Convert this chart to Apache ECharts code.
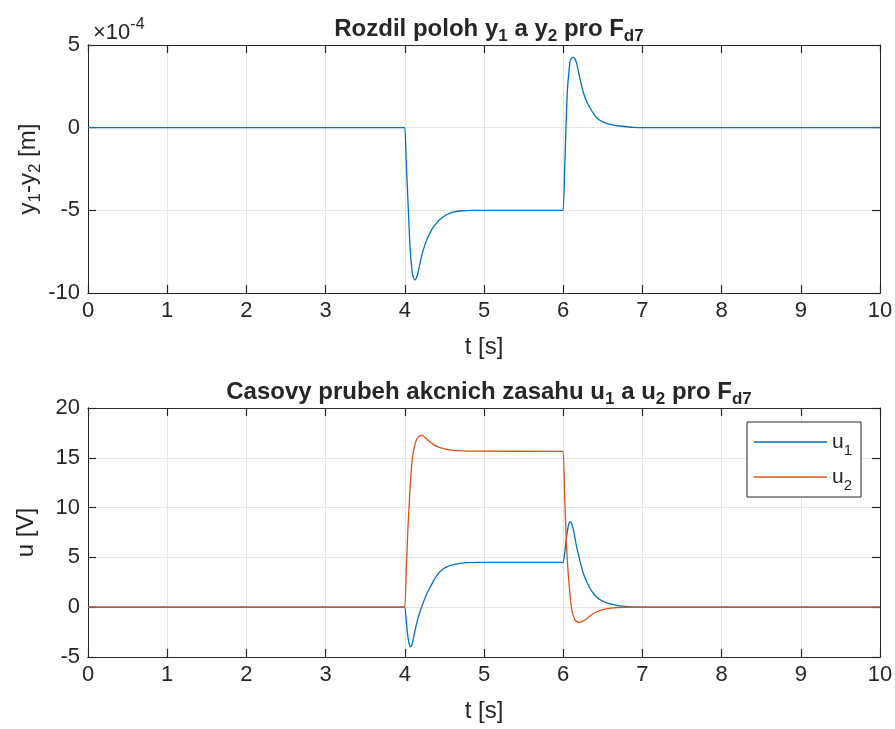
<!DOCTYPE html>
<html>
<head>
<meta charset="utf-8">
<script src="https://cdn.jsdelivr.net/npm/echarts@6.0.0/dist/echarts.min.js"></script>
<style>
	html, body { margin: 0; padding: 0; background: #fff; }
	#main { width: 895px; height: 729px; }
</style>
</head>
<body>
<div id="main"></div>
<script>
// top plot: y1 - y2, values in units of 1e-4 m
const tDiff = [0, 3.98, 4.0, 4.02, 4.045, 4.066, 4.09, 4.11, 4.13, 4.15, 4.17, 4.19, 4.21, 4.23, 4.25, 4.28, 4.32, 4.36, 4.40,
	4.46, 4.53, 4.60, 4.70, 4.85, 5.98, 6.0, 6.02, 6.035, 6.05, 6.065, 6.086, 6.105, 6.126, 6.15, 6.17, 6.19, 6.21, 6.23, 6.25,
	6.29, 6.34, 6.38, 6.42, 6.48, 6.55, 6.63, 6.72, 6.88, 7.0, 10]
const diff = [0, 0, 0, -2.3, -5.0, -7.2, -8.6, -9.1, -9.2, -9.05, -8.7, -8.25, -7.8, -7.45, -7.15, -6.75, -6.35, -6.02, -5.77,
	-5.48, -5.25, -5.12, -5.04, -5.0, -5.0, -5.0, -2.3, 0, 2.0, 3.0, 4.0, 4.2, 4.25, 4.15, 3.9, 3.45, 3.0, 2.6, 2.2,
	1.65, 1.19, 0.88, 0.62, 0.4, 0.26, 0.16, 0.1, 0.02, 0, 0]

// bottom plot: control signals [V]
const tU1 = [0, 3.98, 4.0, 4.02, 4.035, 4.05, 4.07, 4.09, 4.11, 4.13, 4.16, 4.19, 4.23, 4.27, 4.32, 4.37, 4.42, 4.48, 4.53,
	4.6, 4.7, 4.8, 4.95, 5.98, 6.0, 6.02, 6.04, 6.06, 6.08, 6.1, 6.13, 6.15, 6.17, 6.21, 6.255, 6.3, 6.34, 6.38, 6.42, 6.48,
	6.55, 6.63, 6.72, 6.85, 7.0, 10]
const u1 = [0, 0, 0, -1.5, -2.7, -3.5, -3.98, -3.8, -3.1, -2.3, -1.3, -0.5, 0.4, 1.2, 2.0, 2.75, 3.35, 3.8, 4.05,
	4.25, 4.4, 4.47, 4.5, 4.5, 4.5, 5.5, 6.9, 8.0, 8.56, 8.5, 7.73, 6.9, 6.05, 4.7, 3.38, 2.5, 1.88, 1.4, 1.03, 0.68,
	0.43, 0.25, 0.13, 0.04, 0, 0]
const tU2 = [0, 3.98, 4.0, 4.02, 4.04, 4.06, 4.08, 4.10, 4.13, 4.16, 4.21, 4.25, 4.30, 4.36, 4.42, 4.48, 4.55, 4.65, 4.8,
	5.98, 6.0, 6.02, 6.045, 6.08, 6.11, 6.15, 6.2, 6.25, 6.3, 6.38, 6.45, 6.51, 6.6, 6.68, 6.9, 10]
const u2 = [0, 0, 0, 4, 8, 11, 13.6, 15.2, 16.4, 17.0, 17.27, 17.1, 16.7, 16.35, 16.1, 15.95, 15.83, 15.72, 15.67,
	15.65, 15.65, 10.7, 5.7, 1.7, -0.3, -1.3, -1.54, -1.4, -1.14, -0.63, -0.38, -0.23, -0.1, -0.03, 0, 0]

const xTicks = { min: 0, max: 10, interval: 1 }
const yTicksTop = { min: -10, max: 5, interval: 5 }
const yTicksBottom = { min: -5, max: 20, interval: 5 }

const zip = (xs, ys) => xs.map((x, i) => [x, ys[i]])

const ink = '#262626'
const fontFamily = 'Liberation Sans, Arial, sans-serif'
// n = normal text, s = subscript, p = superscript
const richText = (size, bold) => {
	const small = Math.round(size * 0.72)
	const weight = bold ? 'bold' : 'normal'
	return {
		n: { fontSize: size, fontWeight: weight, lineHeight: 32, color: ink, fontFamily },
		s: { fontSize: small, fontWeight: weight, lineHeight: 15, padding: [17, 0, 0, 0], verticalAlign: 'bottom', color: ink, fontFamily },
		p: { fontSize: small, fontWeight: weight, lineHeight: 15, padding: [0, 0, 14, 0], verticalAlign: 'top', color: ink, fontFamily },
	}
}

const boxLine = () => ({ show: true, onZero: false, lineStyle: { color: ink, width: 1 } })
const boxTick = () => ({ show: true, inside: true, length: 8, lineStyle: { color: ink, width: 1.2 } })
const gridLine = () => ({ show: true, lineStyle: { color: '#e3e3e3', width: 1 } })
const tickOnly = { type: 'value', axisLabel: { show: false }, splitLine: { show: false } }

// per grid: one axis for labels + grid lines, then plain axes for the box ticks
// (ticks get their own axes so the grid lines do not paint over them)
function xAxes(gridIndex) {
	return [{
		type: 'value', gridIndex, position: 'bottom', ...xTicks,
		name: 't [s]', nameLocation: 'middle', nameGap: 42,
		nameTextStyle: { fontSize: 24, color: ink, fontFamily },
		axisLine: boxLine(), axisTick: { show: false },
		axisLabel: { fontSize: 22, color: ink, fontFamily, margin: 7 },
		splitLine: gridLine(),
	},
	{ ...tickOnly, gridIndex, position: 'bottom', ...xTicks, axisLine: boxLine(), axisTick: boxTick() },
	{ ...tickOnly, gridIndex, position: 'top', ...xTicks, axisLine: boxLine(), axisTick: boxTick() }]
}

function yAxes(gridIndex, ticks, name, nameGap) {
	return [{
		type: 'value', gridIndex, position: 'left', ...ticks,
		name, nameLocation: 'middle', nameGap, nameRotate: 90, nameMoveOverlap: false,
		nameTextStyle: { rich: richText(24, false) },
		axisLine: boxLine(), axisTick: { show: false },
		axisLabel: { fontSize: 22, color: ink, fontFamily, margin: 8 },
		splitLine: gridLine(),
	},
	{ ...tickOnly, gridIndex, position: 'left', ...ticks, axisLine: boxLine(), axisTick: boxTick() },
	{ ...tickOnly, gridIndex, position: 'right', ...ticks, axisLine: boxLine(), axisTick: boxTick() }]
}

const chart = echarts.init(document.getElementById('main'))

const lineSeries = (name, data, color, axisIndex) => ({
	name, type: 'line', data, xAxisIndex: axisIndex, yAxisIndex: axisIndex,
	symbol: 'none', smooth: 0.2,
	lineStyle: { color, width: 1.3 }, itemStyle: { color },
})

const option = {
	backgroundColor: '#fff',
	animation: false,
	title: [{
		text: '{n|Rozdil poloh y}{s|1}{n| a y}{s|2}{n| pro F}{s|d7}',
		left: 484, top: 8, textAlign: 'center',
		textStyle: { rich: richText(24, true) },
	}, {
		text: '{n|Casovy prubeh akcnich zasahu u}{s|1}{n| a u}{s|2}{n| pro F}{s|d7}',
		left: 484, top: 371, textAlign: 'center',
		textStyle: { rich: richText(24, true) },
	}, {
		text: '{n|×10}{p|-4}',
		left: 88, top: 12,
		textStyle: { rich: richText(22, false) },
	}],
	grid: [
		{ left: 88, top: 45, width: 792, height: 248, outerBoundsMode: 'none' },
		{ left: 88, top: 408, width: 792, height: 249, outerBoundsMode: 'none' },
	],
	xAxis: [...xAxes(0), ...xAxes(1)],
	yAxis: [
		...yAxes(0, yTicksTop, '{n|y}{s|1}{n|-y}{s|2}{n| [m]}', 44),
		...yAxes(1, yTicksBottom, '{n|u [V]}', 46),
	],
	legend: {
		data: ['u1', 'u2'],
		orient: 'vertical',
		left: 747, top: 422,
		padding: [4, 9, 4, 7],
		itemGap: 3,
		icon: 'rect',
		itemWidth: 73, itemHeight: 1.3,
		backgroundColor: '#fff',
		borderColor: ink, borderWidth: 1, borderRadius: 0,
		formatter: name => `{n|u}{s|${name.slice(1)}}`,
		textStyle: { rich: richText(21, false) },
	},
	series: [
		lineSeries('dy', zip(tDiff, diff), '#0072BD', 0),
		lineSeries('u1', zip(tU1, u1), '#0072BD', 3),
		lineSeries('u2', zip(tU2, u2), '#D95319', 3),
	],
}

chart.setOption(option)
</script>
</body>
</html>
